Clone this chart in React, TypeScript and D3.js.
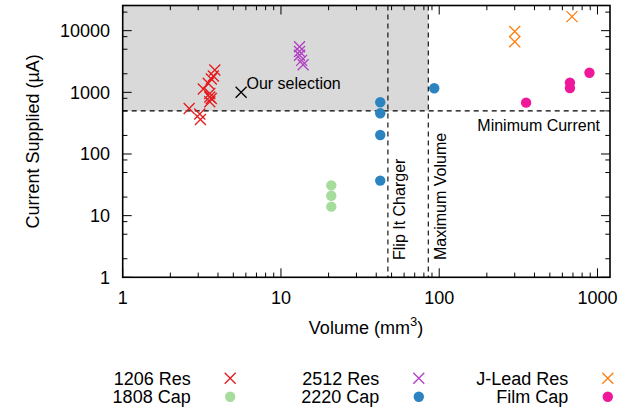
import React from "react";
import * as d3 from "d3";

const res1206X = [2.63, 3.07, 3.1, 3.23, 3.47, 3.63, 3.82, 3.74, 3.55, 3.63, 3.55, 3.55];
const res1206Y = [547, 446, 363, 1133, 1403, 1647, 2305, 1841, 958, 795, 705, 840];
const res2512X = [13.1, 13.1, 13.1, 13.5, 13.8];
const res2512Y = [5500, 4600, 4000, 3300, 2800];
const jleadX = [300, 300, 690];
const jleadY = [9700, 6600, 16900];
const cap1808X = [20.8, 20.8, 20.8];
const cap1808Y = [31, 21, 14];
const cap2220X = [42.4, 42.4, 42.4, 42.4, 93];
const cap2220Y = [690, 457, 203, 37, 1165];
const filmX = [354, 670, 670, 890];
const filmY = [680, 1430, 1170, 2080];
const selectionX = [5.6];
const selectionY = [1000];

const minCurrent = 500;
const flipItVolume = 47.4;
const maxVolume = 85.3;

const xTickValues = [1, 10, 100, 1000];
const yTickValues = [1, 10, 100, 1000, 10000];
const xMinorMult = [2, 3, 4, 5, 6, 7, 8, 9];
const yMinorMult = [2, 5, 8];

type Series = { name: string; xs: number[]; ys: number[]; color: string; shape: "x" | "o" };

const series: Series[] = [
  { name: "1206 Res", xs: res1206X, ys: res1206Y, color: "#e41a1c", shape: "x" },
  { name: "2512 Res", xs: res2512X, ys: res2512Y, color: "#b03fc4", shape: "x" },
  { name: "J-Lead Res", xs: jleadX, ys: jleadY, color: "#ff7f0e", shape: "x" },
  { name: "1808 Cap", xs: cap1808X, ys: cap1808Y, color: "#a6dc9c", shape: "o" },
  { name: "2220 Cap", xs: cap2220X, ys: cap2220Y, color: "#2b83c0", shape: "o" },
  { name: "Film Cap", xs: filmX, ys: filmY, color: "#f0189a", shape: "o" },
];

const W = 631;
const H = 412;
const L = 122.7, R = 610, T = 5.5, B = 277.3;
const FONT = "'Liberation Sans', Arial, Helvetica, sans-serif";

function Marker({ x, y, color, shape }: { x: number; y: number; color: string; shape: string }) {
  if (shape === "o") return <circle cx={x} cy={y} r={5.2} fill={color} />;
  const s = 5.5;
  return (
    <path
      d={`M${x - s},${y - s}L${x + s},${y + s}M${x - s},${y + s}L${x + s},${y - s}`}
      stroke={color}
      strokeWidth={1.3}
      fill="none"
    />
  );
}

export default function App() {
  const x = d3.scaleLog().domain([1, 1200]).range([L, R]);
  const y = d3.scaleLog().domain([1, 25600]).range([B, T]);

  const xMinor: number[] = [];
  [1, 10, 100, 1000].forEach((d) => xMinorMult.forEach((m) => { if (d * m <= 1200) xMinor.push(d * m); }));
  const yMinor: number[] = [];
  [1, 10, 100, 1000, 10000].forEach((d) => yMinorMult.forEach((m) => { if (d * m <= 25600) yMinor.push(d * m); }));

  const major = 9, minor = 4.7;
  const dash = "5,4";

  const legendCols = [190.7, 379.3, 568.3];
  const legendRows = [384.5, 403];

  return (
    <svg width={W} height={H} style={{ position: "absolute", left: 0, top: 0, background: "#fff" }} fontFamily={FONT}>
      <rect x={L} y={T} width={x(maxVolume) - L} height={y(minCurrent) - T} fill="#d9d9d9" />
      <line x1={L} x2={R} y1={y(minCurrent)} y2={y(minCurrent)} stroke="#000" strokeWidth={1.1} strokeDasharray={dash} />
      <line x1={x(flipItVolume)} x2={x(flipItVolume)} y1={T} y2={B} stroke="#000" strokeWidth={1.1} strokeDasharray={dash} />
      <line x1={x(maxVolume)} x2={x(maxVolume)} y1={T} y2={B} stroke="#000" strokeWidth={1.1} strokeDasharray={dash} />

      {/* ticks */}
      <g stroke="#000" strokeWidth={1}>
        {xTickValues.map((v) => (
          <g key={"xt" + v}>
            <line x1={x(v)} x2={x(v)} y1={B} y2={B - major} />
            <line x1={x(v)} x2={x(v)} y1={T} y2={T + major} />
          </g>
        ))}
        {xMinor.map((v) => (
          <g key={"xm" + v}>
            <line x1={x(v)} x2={x(v)} y1={B} y2={B - minor} />
            <line x1={x(v)} x2={x(v)} y1={T} y2={T + minor} />
          </g>
        ))}
        {yTickValues.map((v) => (
          <g key={"yt" + v}>
            <line x1={L} x2={L + major} y1={y(v)} y2={y(v)} />
            <line x1={R} x2={R - major} y1={y(v)} y2={y(v)} />
          </g>
        ))}
        {yMinor.map((v) => (
          <g key={"ym" + v}>
            <line x1={L} x2={L + minor} y1={y(v)} y2={y(v)} />
            <line x1={R} x2={R - minor} y1={y(v)} y2={y(v)} />
          </g>
        ))}
      </g>
      <rect x={L} y={T} width={R - L} height={B - T} fill="none" stroke="#000" strokeWidth={1.6} />

      {/* tick labels */}
      <g fontSize={18} fill="#000">
        {xTickValues.map((v) => (
          <text key={"xl" + v} x={x(v)} y={304} textAnchor="middle">{v}</text>
        ))}
        {yTickValues.map((v) => (
          <text key={"yl" + v} x={110} y={y(v) + 6.5} textAnchor="end">{v}</text>
        ))}
      </g>

      {/* axis labels */}
      <text x={366} y={334} fontSize={18} textAnchor="middle">
        Volume (mm<tspan fontSize={13} dy={-8}>3</tspan><tspan dy={8}>)</tspan>
      </text>
      <text transform={`translate(39,${(T + B) / 2}) rotate(-90)`} fontSize={18} textAnchor="middle">
        Current Supplied (µA)
      </text>

      {/* annotations */}
      <g fontSize={16}>
        <text x={600} y={130.5} textAnchor="end">Minimum Current</text>
        <text x={246.5} y={89} textAnchor="start">Our selection</text>
        <text transform={`translate(${x(flipItVolume) + 17},260) rotate(-90)`}>Flip It Charger</text>
        <text transform={`translate(${x(maxVolume) + 18},260) rotate(-90)`}>Maximum Volume</text>
      </g>

      {/* points */}
      {series.map((s) => (
        <g key={s.name}>
          {s.xs.map((xv, i) => (
            <Marker key={i} x={x(xv)} y={y(s.ys[i])} color={s.color} shape={s.shape} />
          ))}
        </g>
      ))}
      {selectionX.map((xv, i) => (
        <Marker key={"sel" + i} x={x(xv)} y={y(selectionY[i])} color="#000" shape="x" />
      ))}

      {/* legend */}
      <g fontSize={18}>
        {series.map((s, i) => {
          const col = i % 3;
          const row = Math.floor(i / 3);
          const tx = legendCols[col];
          const ty = legendRows[row];
          return (
            <g key={"lg" + s.name}>
              <text x={tx} y={ty} textAnchor="end">{s.name}</text>
              <Marker x={tx + 39.5} y={ty - 6.3} color={s.color} shape={s.shape} />
            </g>
          );
        })}
      </g>
    </svg>
  );
}
